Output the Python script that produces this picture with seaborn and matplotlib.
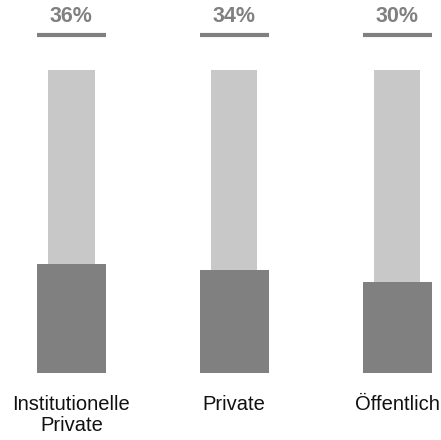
import matplotlib
matplotlib.use("Agg")
import matplotlib.pyplot as plt
import seaborn as sns
import pandas as pd

# Chart data
categories = ["Institutionelle\nPrivate", "Private", "Öffentlich"]
shares = [36, 34, 30]
full = [100, 100, 100]
pct_labels = ["36%", "34%", "30%"]

df = pd.DataFrame({"cat": categories, "share": shares, "full": full})

sns.set_style("white")
plt.rcParams["font.family"] = ["Liberation Sans", "DejaVu Sans"]

fig = plt.figure(figsize=(4.41, 4.40), dpi=100)
ax = fig.add_axes([0, 0, 1, 1])

# Background (100%) bars, then the share bars on top
sns.barplot(data=df, x="cat", y="full", color="#c8c8c8", width=0.283,
            saturation=1, linewidth=0, ax=ax)
sns.barplot(data=df, x="cat", y="share", color="#808080", width=0.424,
            saturation=1, linewidth=0, ax=ax)

for i, lab in enumerate(pct_labels):
    ax.hlines(111.7, i - 0.212, i + 0.212, color="#808080", linewidth=3)
    ax.text(i, 117.6, lab, ha="center", va="center", fontsize=15.5,
            fontweight="bold", color="#808080")
    ax.text(i, -7.3, categories[i], ha="center", va="top", fontsize=14.5,
            color="#111111", linespacing=1.15)

ax.set_xlim(-0.439, 2.270)
ax.set_ylim(-22.24, 123.1)
ax.axis("off")

fig.savefig("out.png", dpi=100)
